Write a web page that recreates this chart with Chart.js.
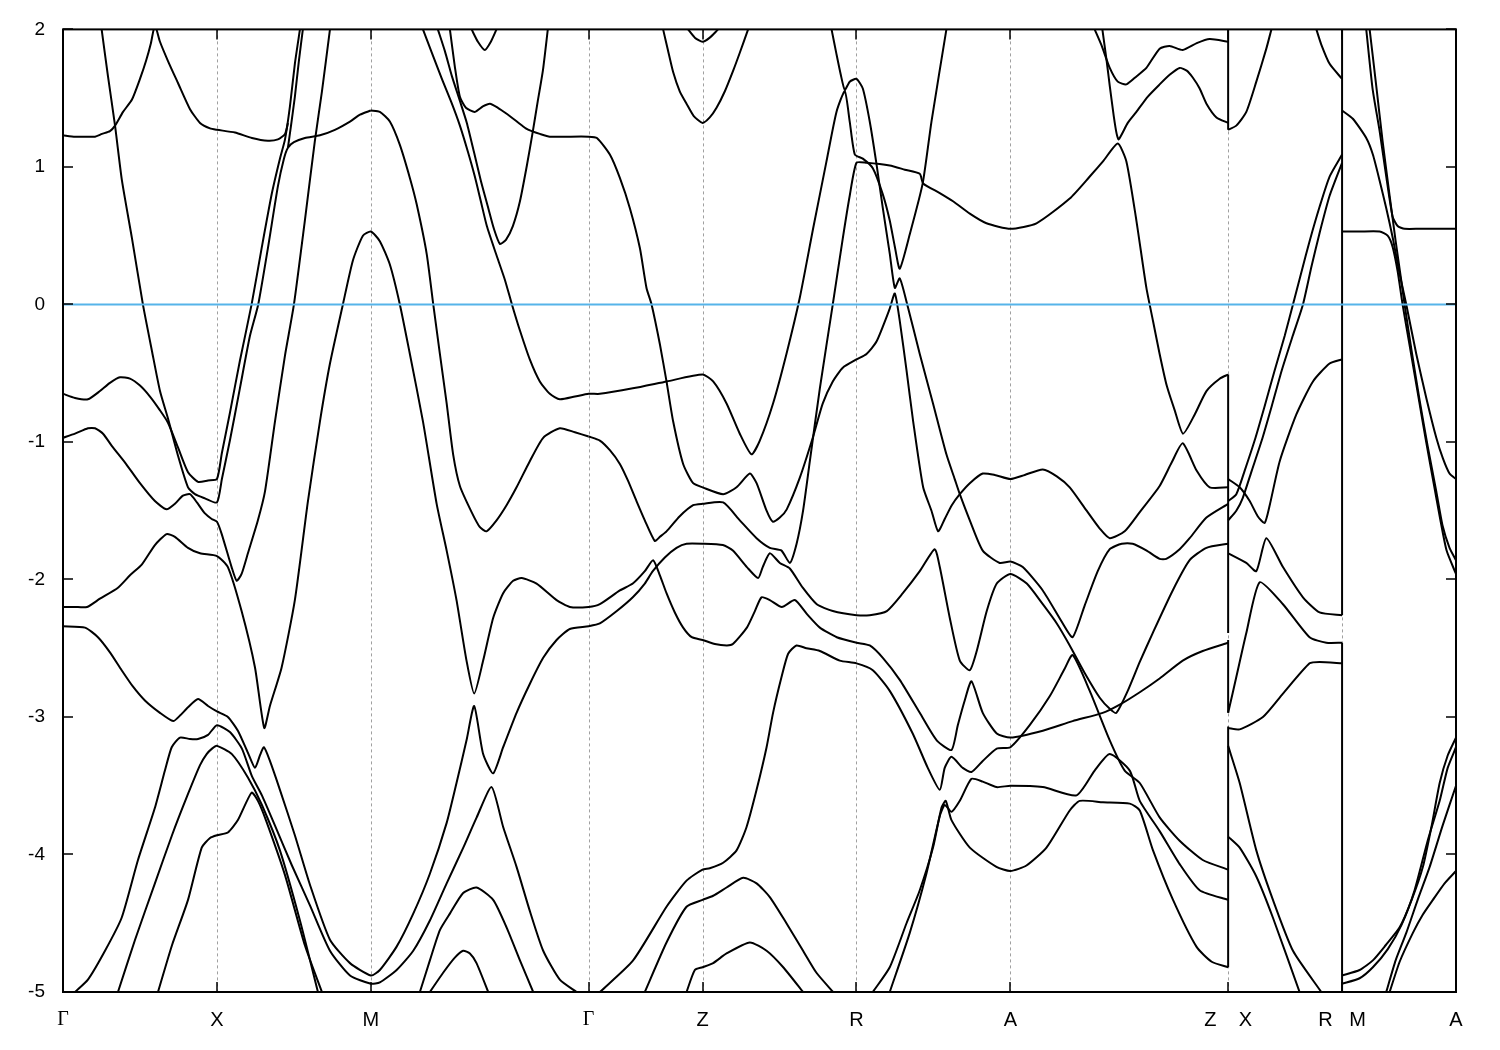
<!DOCTYPE html>
<html>
<head>
<meta charset="utf-8">
<title>Band structure</title>
<script src="https://cdn.jsdelivr.net/npm/chart.js@4.4.1/dist/chart.umd.min.js"></script>
<style>
  html, body { margin: 0; padding: 0; background: #fff; }
  canvas { display: block; }
</style>
</head>
<body>
<canvas id="bandChart" width="1500" height="1050"></canvas>
<script>
// k-path (path length, Gamma-X = 1) and its labels
const kLabels = ["Γ", "X", "M", "Γ", "Z", "R", "A", "Z    X", "R   M", "A"];
const kTicks = [0, 1, 2, 3.414, 4.154, 5.154, 6.154, 7.568, 8.308, 9.048];
const energyTicks = [2, 1, 0, -1, -2, -3, -4, -5];
const fermiLevel = 0;

// bands: [k, E (eV)]
const gxUpper = [[0,1.23],[0.078,1.22],[0.143,1.22],[0.208,1.22],[0.253,1.24],[0.305,1.26],[0.338,1.30],[0.390,1.40],[0.448,1.49],[0.500,1.64],[0.539,1.77],[0.571,1.90],[0.597,2.03],[0.630,1.91],[0.682,1.77],[0.747,1.61],[0.825,1.42],[0.890,1.32],[0.955,1.28],[1.0,1.27],[1.117,1.25],[1.227,1.21],[1.331,1.19],[1.396,1.20],[1.442,1.24],[1.461,1.32]];
const gxSteep = [[0.251,2.00],[0.292,1.66],[0.338,1.30],[0.383,0.90],[0.448,0.48],[0.519,0.00],[0.578,-0.34],[0.630,-0.63],[0.682,-0.83],[0.747,-1.10],[0.812,-1.33],[0.857,-1.38],[0.922,-1.41],[1.0,-1.44],[1.032,-1.27],[1.084,-0.99],[1.149,-0.61],[1.214,-0.23],[1.268,0.00],[1.331,0.41],[1.396,0.86],[1.435,1.06],[1.461,1.14],[1.500,1.18],[1.571,1.21],[1.669,1.23],[1.766,1.27],[1.864,1.33],[1.929,1.38],[2.0,1.41]];
const mgDown = [[2.0,1.41],[2.058,1.40],[2.123,1.33],[2.188,1.16],[2.253,0.92],[2.297,0.73],[2.362,0.37],[2.405,0.00],[2.448,-0.36],[2.492,-0.72],[2.534,-1.09],[2.578,-1.32],[2.654,-1.51],[2.708,-1.62],[2.751,-1.65],[2.816,-1.57],[2.881,-1.46],[2.946,-1.33],[3.032,-1.14],[3.119,-0.97],[3.227,-0.90],[3.325,-0.93],[3.414,-0.96]];
const gxMid1 = [[0,-0.65],[0.078,-0.68],[0.162,-0.69],[0.240,-0.63],[0.305,-0.57],[0.370,-0.53],[0.435,-0.54],[0.5,-0.59],[0.565,-0.67],[0.630,-0.77],[0.682,-0.86],[0.747,-1.04],[0.812,-1.22],[0.877,-1.29],[0.942,-1.28],[1.0,-1.27],[1.032,-1.08],[1.084,-0.79],[1.149,-0.41],[1.225,0.00],[1.292,0.42],[1.357,0.81],[1.409,1.06],[1.442,1.20],[1.474,1.44],[1.506,1.75],[1.539,2.00]];
const gxMid2 = [[0,-0.97],[0.078,-0.94],[0.162,-0.90],[0.208,-0.90],[0.260,-0.94],[0.318,-1.03],[0.403,-1.15],[0.5,-1.30],[0.597,-1.43],[0.673,-1.49],[0.727,-1.45],[0.779,-1.39],[0.825,-1.38],[0.870,-1.44],[0.922,-1.52],[0.966,-1.56],[1.0,-1.58],[1.031,-1.67],[1.095,-1.91],[1.128,-2.01],[1.160,-1.96],[1.201,-1.81],[1.266,-1.57],[1.312,-1.36],[1.377,-0.85],[1.442,-0.37],[1.500,0.00],[1.571,0.61],[1.636,1.19],[1.682,1.55],[1.734,2.00]];
const xmTop = [[1.461,1.14],[1.481,1.30],[1.506,1.51],[1.532,1.77],[1.558,2.00]];
const band22 = [[0,-2.20],[0.078,-2.20],[0.156,-2.20],[0.240,-2.14],[0.357,-2.06],[0.435,-1.97],[0.513,-1.89],[0.597,-1.75],[0.673,-1.67],[0.727,-1.69],[0.812,-1.77],[0.890,-1.81],[1.0,-1.83],[1.071,-1.91],[1.160,-2.23],[1.247,-2.64],[1.307,-3.08],[1.344,-2.92],[1.420,-2.64],[1.506,-2.15],[1.591,-1.43],[1.669,-0.85],[1.734,-0.43],[1.818,0.00],[1.883,0.32],[1.948,0.50],[2.0,0.53],[2.058,0.46],[2.123,0.29],[2.188,0.00],[2.253,-0.36],[2.338,-0.85],[2.427,-1.45],[2.492,-1.79],[2.556,-2.15],[2.621,-2.59],[2.671,-2.83],[2.729,-2.59],[2.794,-2.28],[2.859,-2.10],[2.924,-2.01],[2.979,-1.99],[3.076,-2.03],[3.206,-2.15],[3.292,-2.20],[3.414,-2.20],[3.487,-2.18],[3.617,-2.08],[3.701,-2.03],[3.779,-1.94],[3.833,-1.86],[3.877,-1.97],[3.920,-2.10],[3.974,-2.24],[4.028,-2.35],[4.084,-2.42],[4.154,-2.44],[4.234,-2.47],[4.312,-2.48],[4.351,-2.47],[4.442,-2.35],[4.494,-2.23],[4.537,-2.13],[4.591,-2.15],[4.669,-2.20],[4.753,-2.15],[4.831,-2.25],[4.916,-2.35],[5.026,-2.42],[5.154,-2.46],[5.240,-2.48],[5.325,-2.57],[5.435,-2.73],[5.565,-2.97],[5.675,-3.17],[5.771,-3.24],[5.812,-3.06],[5.857,-2.88],[5.901,-2.74],[5.974,-2.97],[6.065,-3.12],[6.154,-3.15],[6.364,-3.10],[6.558,-3.03],[6.753,-2.97],[6.864,-2.91],[6.994,-2.82],[7.123,-2.72],[7.273,-2.59],[7.403,-2.52],[7.568,-2.46]];
const band234 = [[0,-2.34],[0.143,-2.35],[0.227,-2.42],[0.305,-2.53],[0.381,-2.66],[0.455,-2.78],[0.532,-2.88],[0.630,-2.97],[0.716,-3.03],[0.760,-2.99],[0.812,-2.93],[0.877,-2.87],[0.942,-2.92],[1.0,-2.96],[1.071,-3.00],[1.136,-3.10],[1.201,-3.26],[1.247,-3.37],[1.279,-3.28],[1.305,-3.22],[1.344,-3.32],[1.409,-3.53],[1.506,-3.86],[1.604,-4.22],[1.734,-4.62],[1.864,-4.79],[2.0,-4.88],[2.058,-4.84],[2.167,-4.67],[2.275,-4.43],[2.383,-4.14],[2.492,-3.77],[2.556,-3.48],[2.621,-3.17],[2.671,-2.92],[2.729,-3.27],[2.794,-3.41],[2.859,-3.22],[2.946,-2.97],[3.032,-2.76],[3.119,-2.57],[3.206,-2.44],[3.292,-2.36],[3.414,-2.34],[3.487,-2.32],[3.597,-2.23],[3.701,-2.13],[3.779,-2.03],[3.831,-1.94],[3.909,-1.84],[3.985,-1.77],[4.050,-1.74],[4.154,-1.74],[4.286,-1.75],[4.351,-1.79],[4.442,-1.91],[4.515,-1.99],[4.545,-1.91],[4.591,-1.81],[4.656,-1.88],[4.721,-1.92],[4.805,-2.06],[4.896,-2.18],[5.000,-2.23],[5.154,-2.26],[5.240,-2.26],[5.351,-2.23],[5.455,-2.10],[5.565,-1.94],[5.662,-1.78],[5.695,-1.91],[5.760,-2.28],[5.825,-2.59],[5.890,-2.66],[5.935,-2.52],[6.000,-2.23],[6.065,-2.03],[6.154,-1.96],[6.260,-2.03],[6.364,-2.18],[6.455,-2.32],[6.539,-2.48],[6.636,-2.68],[6.734,-2.86],[6.799,-2.94],[6.842,-2.97],[6.916,-2.81],[6.994,-2.60],[7.078,-2.39],[7.208,-2.08],[7.318,-1.86],[7.427,-1.77],[7.568,-1.74]];
const lowA = [[0.078,-5.00],[0.162,-4.91],[0.273,-4.70],[0.381,-4.46],[0.487,-4.04],[0.597,-3.66],[0.662,-3.39],[0.706,-3.22],[0.760,-3.15],[0.825,-3.16],[0.877,-3.16],[0.942,-3.13],[1.0,-3.06],[1.084,-3.11],[1.162,-3.23],[1.227,-3.43],[1.292,-3.57],[1.377,-3.79],[1.487,-4.08],[1.604,-4.37],[1.734,-4.70],[1.864,-4.88],[2.0,-4.94],[2.058,-4.93],[2.167,-4.84],[2.275,-4.70],[2.383,-4.48],[2.492,-4.21],[2.600,-3.95],[2.687,-3.73],[2.784,-3.51],[2.859,-3.80],[2.946,-4.09],[3.032,-4.41],[3.119,-4.70],[3.227,-4.91],[3.336,-5.00]];
const lowB = [[0.357,-5.00],[0.468,-4.62],[0.597,-4.21],[0.708,-3.86],[0.812,-3.56],[0.890,-3.35],[0.933,-3.27],[0.968,-3.23],[1.0,-3.21],[1.097,-3.27],[1.201,-3.44],[1.292,-3.64],[1.409,-3.97],[1.539,-4.48],[1.656,-5.00]];
const lowC = [[0.617,-5.00],[0.708,-4.66],[0.812,-4.33],[0.901,-3.95],[0.955,-3.88],[1.0,-3.86],[1.071,-3.84],[1.136,-3.75],[1.225,-3.55],[1.266,-3.61],[1.318,-3.75],[1.442,-4.15],[1.571,-4.66],[1.682,-5.00]];
const mgCross = [[2.338,2.00],[2.396,1.83],[2.461,1.64],[2.526,1.46],[2.578,1.30],[2.630,1.11],[2.675,0.93],[2.714,0.75],[2.753,0.57],[2.812,0.37],[2.870,0.18],[2.916,0.00],[2.968,-0.19],[3.032,-0.40],[3.097,-0.56],[3.162,-0.65],[3.227,-0.69],[3.325,-0.67],[3.414,-0.65],[3.487,-0.65],[3.701,-0.61],[3.922,-0.56],[4.154,-0.51],[4.223,-0.56],[4.310,-0.72],[4.396,-0.94],[4.472,-1.09],[4.526,-0.99],[4.612,-0.72],[4.699,-0.36],[4.786,0.05],[4.872,0.55],[4.959,1.04],[5.024,1.40],[5.078,1.55],[5.110,1.33],[5.143,1.09],[5.195,1.06],[5.260,0.99],[5.325,0.80],[5.370,0.61],[5.403,0.42],[5.435,0.26],[5.500,0.51],[5.584,0.88],[5.641,1.33],[5.738,2.00]];
const mgVee = [[2.435,2.00],[2.481,1.84],[2.526,1.66],[2.578,1.48],[2.623,1.32],[2.669,1.11],[2.714,0.90],[2.760,0.71],[2.799,0.55],[2.838,0.44],[2.877,0.47],[2.922,0.57],[2.968,0.75],[3.013,1.01],[3.052,1.26],[3.084,1.48],[3.117,1.70],[3.149,2.00]];
const band122 = [[2.513,2.00],[2.545,1.73],[2.578,1.51],[2.617,1.43],[2.675,1.40],[2.727,1.44],[2.773,1.46],[2.825,1.43],[2.877,1.39],[2.948,1.33],[3.006,1.28],[3.045,1.26],[3.097,1.24],[3.162,1.22],[3.260,1.22],[3.414,1.22],[3.468,1.21],[3.552,1.09],[3.617,0.92],[3.682,0.70],[3.747,0.41],[3.790,0.12],[3.823,0.00],[3.877,-0.29],[3.920,-0.56],[3.963,-0.85],[4.028,-1.16],[4.093,-1.30],[4.154,-1.33],[4.288,-1.38],[4.375,-1.33],[4.461,-1.23],[4.505,-1.30],[4.570,-1.50],[4.610,-1.58],[4.656,-1.55],[4.701,-1.49],[4.786,-1.26],[4.870,-0.97],[4.935,-0.72],[5.000,-0.56],[5.065,-0.46],[5.154,-0.40],[5.219,-0.36],[5.284,-0.27],[5.370,-0.03],[5.403,0.08],[5.435,-0.12],[5.479,-0.48],[5.522,-0.85],[5.587,-1.33],[5.641,-1.50],[5.684,-1.65],[5.727,-1.56],[5.773,-1.46],[5.825,-1.38],[5.890,-1.30],[5.974,-1.23],[6.052,-1.24],[6.154,-1.27],[6.247,-1.24],[6.364,-1.20],[6.455,-1.25],[6.539,-1.33],[6.649,-1.50],[6.734,-1.63],[6.799,-1.70],[6.896,-1.65],[6.994,-1.51],[7.123,-1.32],[7.201,-1.15],[7.273,-1.01],[7.364,-1.21],[7.448,-1.33],[7.568,-1.33]];
const mgCap = [[2.654,2.00],[2.695,1.91],[2.740,1.85],[2.779,1.91],[2.816,2.00]];
const mgLow1 = [[2.318,-5.00],[2.383,-4.77],[2.448,-4.55],[2.513,-4.43],[2.599,-4.28],[2.686,-4.24],[2.794,-4.33],[2.881,-4.53],[2.968,-4.77],[3.054,-5.00]];
const mgLow2 = [[2.383,-5.00],[2.469,-4.86],[2.545,-4.75],[2.599,-4.70],[2.643,-4.72],[2.686,-4.79],[2.762,-5.00]];
const band097 = [[3.414,-0.96],[3.487,-0.99],[3.552,-1.06],[3.617,-1.16],[3.669,-1.28],[3.725,-1.43],[3.779,-1.57],[3.844,-1.72],[3.877,-1.69],[3.920,-1.65],[4.006,-1.54],[4.093,-1.46],[4.154,-1.45],[4.288,-1.44],[4.396,-1.57],[4.505,-1.70],[4.591,-1.77],[4.667,-1.79],[4.721,-1.88],[4.765,-1.74],[4.807,-1.50],[4.851,-1.14],[4.916,-0.61],[5.000,0.00],[5.065,0.48],[5.110,0.79],[5.154,1.03],[5.219,1.03],[5.370,1.01],[5.468,0.98],[5.565,0.95],[5.587,0.88],[5.695,0.81],[5.781,0.75],[5.890,0.66],[5.998,0.59],[6.154,0.55],[6.323,0.59],[6.539,0.77],[6.669,0.93],[6.755,1.04],[6.851,1.17],[6.907,1.04],[6.972,0.61],[7.037,0.12],[7.080,-0.12],[7.123,-0.36],[7.169,-0.59],[7.221,-0.77],[7.275,-0.94],[7.351,-0.80],[7.427,-0.63],[7.513,-0.54],[7.568,-0.51]];
const zArc1 = [[3.898,2.00],[3.929,1.85],[3.963,1.69],[4.006,1.55],[4.050,1.46],[4.097,1.37],[4.154,1.32],[4.201,1.36],[4.245,1.43],[4.299,1.55],[4.353,1.70],[4.396,1.83],[4.450,2.00]];
const zArc2 = [[4.060,2.00],[4.104,1.94],[4.154,1.91],[4.201,1.94],[4.255,2.00]];
const azTop1 = [[6.701,2.00],[6.747,1.88],[6.799,1.72],[6.851,1.62],[6.907,1.60],[6.974,1.66],[7.037,1.72],[7.123,1.86],[7.188,1.88],[7.273,1.85],[7.364,1.90],[7.448,1.93],[7.568,1.91]];
const azTop2 = [[6.751,2.00],[6.779,1.77],[6.799,1.59],[6.825,1.37],[6.844,1.24],[6.857,1.20],[6.916,1.32],[6.972,1.40],[7.045,1.51],[7.123,1.60],[7.188,1.67],[7.253,1.72],[7.299,1.70],[7.338,1.65],[7.383,1.57],[7.427,1.46],[7.492,1.36],[7.568,1.32]];
const band411 = [[3.487,-5.00],[3.703,-4.77],[3.920,-4.38],[4.050,-4.19],[4.154,-4.11],[4.201,-4.10],[4.288,-4.06],[4.375,-3.97],[4.440,-3.80],[4.505,-3.53],[4.570,-3.22],[4.612,-2.97],[4.667,-2.71],[4.710,-2.54],[4.764,-2.48],[4.829,-2.50],[4.916,-2.52],[5.045,-2.59],[5.154,-2.61],[5.260,-2.66],[5.370,-2.81],[5.519,-3.12],[5.617,-3.37],[5.695,-3.53],[5.727,-3.37],[5.771,-3.29],[5.844,-3.37],[5.901,-3.40],[5.974,-3.32],[6.065,-3.23],[6.154,-3.22],[6.279,-3.06],[6.409,-2.85],[6.506,-2.65],[6.558,-2.55],[6.669,-2.81],[6.799,-3.17],[6.896,-3.39],[6.994,-3.48],[7.123,-3.73],[7.253,-3.90],[7.403,-4.04],[7.568,-4.11]];
const band432 = [[3.779,-5.00],[3.920,-4.64],[4.050,-4.38],[4.154,-4.33],[4.223,-4.30],[4.310,-4.24],[4.418,-4.17],[4.505,-4.21],[4.591,-4.31],[4.699,-4.50],[4.807,-4.70],[4.894,-4.86],[5.002,-5.00]];
const band480 = [[4.050,-5.00],[4.104,-4.84],[4.154,-4.82],[4.223,-4.79],[4.310,-4.72],[4.461,-4.64],[4.570,-4.70],[4.678,-4.82],[4.807,-5.00]];
const rTop = [[4.992,2.00],[5.024,1.82],[5.052,1.67],[5.078,1.56],[5.110,1.62],[5.154,1.64],[5.195,1.57],[5.240,1.33],[5.284,1.02],[5.325,0.70],[5.370,0.37],[5.403,0.12],[5.435,0.19],[5.479,0.02],[5.565,-0.36],[5.651,-0.72],[5.738,-1.09],[5.792,-1.27],[5.825,-1.38],[5.890,-1.57],[5.974,-1.79],[6.084,-1.88],[6.154,-1.87],[6.234,-1.91],[6.364,-2.08],[6.494,-2.32],[6.558,-2.42],[6.636,-2.19],[6.721,-1.94],[6.799,-1.78],[6.877,-1.74],[6.948,-1.74],[7.039,-1.79],[7.123,-1.85],[7.166,-1.85],[7.253,-1.78],[7.318,-1.70],[7.427,-1.55],[7.568,-1.45]];
const raLow1 = [[5.260,-5.00],[5.370,-4.82],[5.479,-4.50],[5.565,-4.26],[5.651,-3.95],[5.706,-3.66],[5.734,-3.61],[5.771,-3.75],[5.890,-3.95],[6.063,-4.09],[6.154,-4.12],[6.258,-4.08],[6.388,-3.95],[6.539,-3.68],[6.604,-3.61],[6.755,-3.62],[6.929,-3.63],[6.994,-3.68],[7.080,-3.97],[7.210,-4.33],[7.362,-4.67],[7.461,-4.78],[7.568,-4.82]];
const raLow2 = [[5.370,-5.00],[5.500,-4.57],[5.608,-4.14],[5.695,-3.72],[5.727,-3.64],[5.771,-3.69],[5.825,-3.61],[5.901,-3.45],[5.974,-3.47],[6.063,-3.51],[6.154,-3.50],[6.364,-3.51],[6.583,-3.57],[6.701,-3.39],[6.799,-3.27],[6.929,-3.39],[6.994,-3.61],[7.123,-3.83],[7.253,-4.07],[7.383,-4.26],[7.568,-4.33]];
const xr1 = [[7.568,1.27],[7.621,1.30],[7.686,1.40],[7.751,1.62],[7.816,1.86],[7.849,2.00]];
const xr2 = [[8.141,2.00],[8.173,1.89],[8.227,1.75],[8.308,1.64]];
const xr3 = [[7.568,-1.27],[7.643,-1.33],[7.708,-1.43],[7.760,-1.54],[7.805,-1.59],[7.838,-1.46],[7.903,-1.14],[8.011,-0.80],[8.119,-0.56],[8.227,-0.43],[8.308,-0.40]];
const xr4 = [[7.568,-1.43],[7.621,-1.38],[7.675,-1.21],[7.740,-0.99],[7.805,-0.74],[7.870,-0.48],[7.935,-0.23],[7.989,0.00],[8.045,0.24],[8.097,0.46],[8.162,0.71],[8.227,0.93],[8.308,1.09]];
const xr5 = [[7.568,-1.57],[7.621,-1.50],[7.662,-1.41],[7.721,-1.21],[7.786,-0.99],[7.851,-0.74],[7.916,-0.48],[7.987,-0.23],[8.054,0.00],[8.110,0.28],[8.162,0.52],[8.227,0.79],[8.308,1.03]];
const xr6 = [[7.568,-1.81],[7.686,-1.88],[7.751,-1.94],[7.816,-1.70],[7.924,-1.91],[8.054,-2.13],[8.162,-2.24],[8.308,-2.26]];
const xr7 = [[7.568,-2.97],[7.621,-2.71],[7.686,-2.39],[7.773,-2.02],[7.924,-2.18],[8.097,-2.42],[8.206,-2.46],[8.308,-2.46]];
const xr8 = [[7.568,-3.08],[7.643,-3.09],[7.794,-3.00],[7.924,-2.83],[8.097,-2.61],[8.162,-2.60],[8.308,-2.61]];
const xr9 = [[7.568,-3.21],[7.643,-3.48],[7.751,-3.97],[7.859,-4.33],[7.989,-4.70],[8.173,-5.00]];
const xr10 = [[7.568,-3.87],[7.643,-3.95],[7.751,-4.16],[7.859,-4.46],[8.032,-5.00]];
const ma1 = [[8.308,1.41],[8.378,1.35],[8.465,1.21],[8.508,1.09],[8.552,0.90],[8.595,0.70],[8.638,0.48],[8.682,0.22],[8.725,0.00],[8.790,-0.36],[8.855,-0.68],[8.920,-0.97],[8.963,-1.12],[9.006,-1.23],[9.048,-1.27]];
const ma2 = [[8.465,2.00],[8.506,1.57],[8.552,1.26],[8.595,0.93],[8.636,0.64],[8.669,0.57],[8.714,0.55],[8.812,0.55],[9.048,0.55]];
const ma3 = [[8.487,2.00],[8.532,1.57],[8.571,1.19],[8.617,0.79],[8.656,0.46],[8.688,0.21],[8.714,0.00],[8.760,-0.34],[8.812,-0.70],[8.864,-1.03],[8.920,-1.36],[8.961,-1.61],[9.006,-1.77],[9.048,-1.86]];
const ma4 = [[8.308,0.53],[8.422,0.53],[8.552,0.53],[8.604,0.50],[8.636,0.42],[8.669,0.24],[8.701,0.00],[8.747,-0.30],[8.799,-0.64],[8.851,-0.98],[8.903,-1.30],[8.942,-1.54],[8.987,-1.79],[9.048,-1.96]];
const ma5 = [[8.308,-4.88],[8.422,-4.84],[8.508,-4.77],[8.591,-4.66],[8.682,-4.53],[8.760,-4.33],[8.833,-4.09],[8.890,-3.79],[8.942,-3.48],[8.994,-3.28],[9.048,-3.15]];
const ma6 = [[8.308,-4.94],[8.422,-4.90],[8.508,-4.82],[8.604,-4.69],[8.695,-4.51],[8.779,-4.26],[8.864,-3.90],[8.942,-3.61],[8.994,-3.37],[9.048,-3.22]];
const ma7 = [[8.595,-5.00],[8.656,-4.77],[8.725,-4.57],[8.799,-4.33],[8.877,-4.09],[8.961,-3.79],[9.048,-3.50]];
const ma8 = [[8.617,-5.00],[8.682,-4.78],[8.768,-4.57],[8.831,-4.44],[8.898,-4.33],[8.974,-4.21],[9.048,-4.12]];

// energy jumps where the path is broken (Z|X and R|M)
const jumpsZX = [[2.0, 1.27], [-0.51, -2.39], [-2.44, -2.97], [-3.07, -4.82]];
const jumpsRM = [[2.0, -2.26], [-2.46, -5.0]];

const bandLines = [
  gxUpper, gxSteep, mgDown, gxMid1, gxMid2, xmTop, band22, band234, lowA, lowB, lowC,
  mgCross, mgVee, band122, mgCap, mgLow1, mgLow2, band097, zArc1, zArc2, azTop1, azTop2,
  band411, band432, band480, rTop, raLow1, raLow2,
  xr1, xr2, xr3, xr4, xr5, xr6, xr7, xr8, xr9, xr10,
  ma1, ma2, ma3, ma4, ma5, ma6, ma7, ma8,
];

const lineWidth = 2;

const datasets = bandLines.map(function (pts) {
  return {
    data: pts.map(function (p) { return { x: p[0], y: p[1] }; }),
    borderColor: "#000",
    borderWidth: lineWidth,
    pointRadius: 0,
    tension: 0.2,
    order: 2,
  };
});

// vertical connections at the path breaks
function addJumps(kIndex, jumps) {
  jumps.forEach(function (pair) {
    datasets.push({
      data: [{ x: kTicks[kIndex], y: pair[0] }, { x: kTicks[kIndex], y: pair[1] }],
      borderColor: "#000",
      borderWidth: lineWidth,
      pointRadius: 0,
      order: 2,
    });
  });
}
addJumps(7, jumpsZX);
addJumps(8, jumpsRM);

// Fermi level
datasets.push({
  data: [{ x: kTicks[0], y: fermiLevel }, { x: kTicks[kTicks.length - 1], y: fermiLevel }],
  borderColor: "#56b4e9",
  borderWidth: 2,
  pointRadius: 0,
  order: 1,
});

// grid lines, frame and inward tick marks (gnuplot style)
const framePlugin = {
  id: "frame",
  beforeDatasetsDraw(chart) {
    const { ctx, chartArea, scales } = chart;
    ctx.save();
    ctx.strokeStyle = "#a0a0a0";
    ctx.lineWidth = 1;
    ctx.setLineDash([3, 3]);
    kTicks.forEach(function (k) {
      const px = Math.round(scales.x.getPixelForValue(k)) + 0.5;
      ctx.beginPath();
      ctx.moveTo(px, chartArea.top);
      ctx.lineTo(px, chartArea.bottom);
      ctx.stroke();
    });
    ctx.restore();
  },
  afterDatasetsDraw(chart) {
    const { ctx, chartArea, scales } = chart;
    const { left, right, top, bottom } = chartArea;
    ctx.save();
    ctx.strokeStyle = "#000";
    ctx.lineWidth = 2;
    ctx.strokeRect(left, top, right - left, bottom - top);
    ctx.lineWidth = 1.5;
    ctx.beginPath();
    kTicks.forEach(function (k) {
      const px = Math.round(scales.x.getPixelForValue(k));
      ctx.moveTo(px, bottom);
      ctx.lineTo(px, bottom - 10);
      ctx.moveTo(px, top);
      ctx.lineTo(px, top + 10);
    });
    energyTicks.forEach(function (e) {
      const py = Math.round(scales.y.getPixelForValue(e));
      ctx.moveTo(left, py);
      ctx.lineTo(left + 10, py);
      ctx.moveTo(right, py);
      ctx.lineTo(right - 10, py);
    });
    ctx.stroke();
    ctx.restore();
  },
};

new Chart(document.getElementById("bandChart"), {
  type: "line",
  data: { datasets: datasets },
  plugins: [framePlugin],
  options: {
    responsive: false,
    animation: false,
    devicePixelRatio: 1,
    layout: { padding: { left: 0, right: 44, top: 28, bottom: 0 } },
    plugins: { legend: { display: false }, tooltip: { enabled: false } },
    scales: {
      x: {
        type: "linear",
        min: kTicks[0],
        max: kTicks[kTicks.length - 1],
        afterBuildTicks: function (scale) {
          scale.ticks = kTicks.map(function (v) { return { value: v }; });
        },
        afterFit: function (scale) { scale.height = 58; },
        grid: { display: false, drawTicks: false },
        border: { display: false },
        ticks: {
          autoSkip: false,
          maxRotation: 0,
          padding: 16,
          color: "#000",
          callback: function (value, index) { return kLabels[index]; },
          font: function (c) {
            const isGamma = kLabels[c.index] === "Γ";
            return { family: isGamma ? "Liberation Serif" : "Liberation Sans", size: 20 };
          },
        },
      },
      y: {
        type: "linear",
        min: -5,
        max: 2,
        afterBuildTicks: function (scale) {
          scale.ticks = energyTicks.map(function (v) { return { value: v }; });
        },
        afterFit: function (scale) { scale.width = 63; },
        grid: { display: false, drawTicks: false },
        border: { display: false },
        ticks: {
          padding: 18,
          color: "#000",
          font: { family: "Liberation Sans", size: 19 },
        },
      },
    },
  },
});
</script>
</body>
</html>
